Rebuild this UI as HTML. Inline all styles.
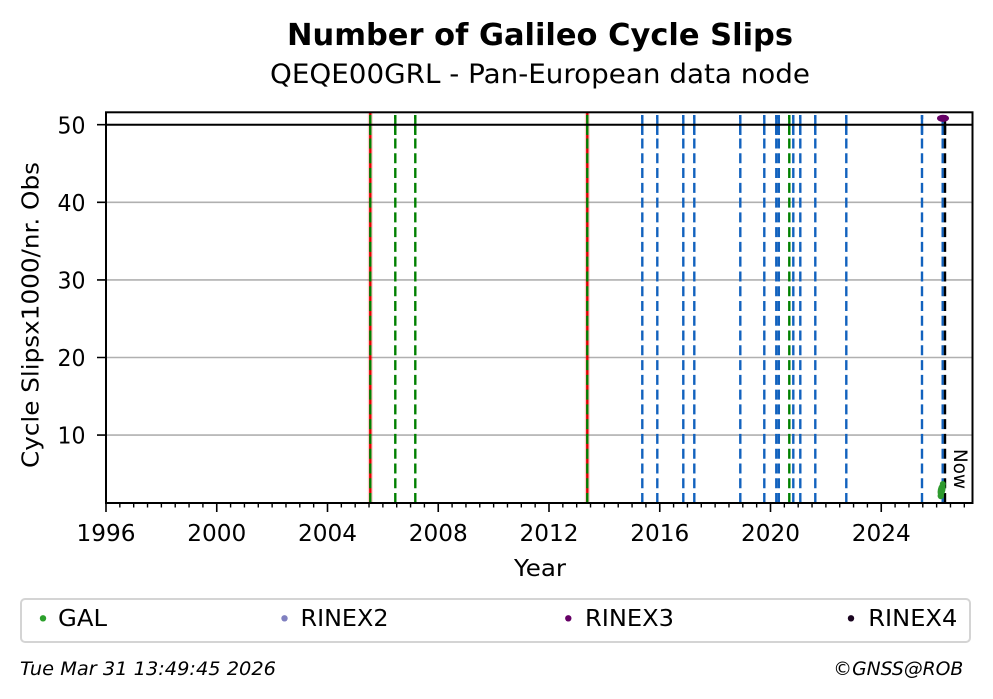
<!DOCTYPE html>
<html>
<head>
<meta charset="utf-8">
<style>
html,body{margin:0;padding:0;background:#fff;}
svg{display:block;}
text{font-family:"DejaVu Sans","Liberation Sans",sans-serif;fill:#000;}
.b{stroke:#1262be;stroke-width:2.4;stroke-dasharray:10 4.77;}
.g{stroke:#008000;stroke-width:2.4;stroke-dasharray:10 4.77;}
</style>
</head>
<body>
<svg width="993" height="699" viewBox="0 0 993 699" xmlns="http://www.w3.org/2000/svg">
<rect x="0" y="0" width="993" height="699" fill="#fff"/>

<text x="287" y="45" font-size="30" font-weight="bold" textLength="506" lengthAdjust="spacingAndGlyphs">Number of Galileo Cycle Slips</text>
<text x="270" y="83" font-size="27" textLength="540" lengthAdjust="spacingAndGlyphs">QEQE00GRL - Pan-European data node</text>

<path d="M106 435.1H973M106 357.5H973M106 279.9H973M106 202.3H973M106 124.7H973" stroke="#b0b0b0" stroke-width="1.6" fill="none"/>

<path d="M370.3 503V112.5M587.3 503V112.5" stroke="#ff0000" stroke-opacity="0.2" stroke-width="5" fill="none"/>
<path d="M370.3 503V112.5M587.3 503V112.5" stroke="#e00000" stroke-width="2.4" fill="none"/>

<line class="g" x1="370.3" y1="503" x2="370.3" y2="115"/>
<line class="g" x1="587.3" y1="503" x2="587.3" y2="115"/>
<line class="g" x1="395.3" y1="503" x2="395.3" y2="115"/>
<line class="g" x1="415.3" y1="503" x2="415.3" y2="115"/>
<line class="g" x1="789.3" y1="503" x2="789.3" y2="115"/>
<path d="M370.3 115V135M587.3 115V135M395.3 115V135M415.3 115V135M789.3 115V135" stroke="#008000" stroke-width="2.4" fill="none"/>

<line class="b" x1="642.3" y1="503" x2="642.3" y2="115"/>
<line class="b" x1="657.3" y1="503" x2="657.3" y2="115"/>
<line class="b" x1="683.3" y1="503" x2="683.3" y2="115"/>
<line class="b" x1="694.3" y1="503" x2="694.3" y2="115"/>
<line class="b" x1="740.3" y1="503" x2="740.3" y2="115"/>
<line class="b" x1="764.3" y1="503" x2="764.3" y2="115"/>
<line class="b" x1="776.3" y1="503" x2="776.3" y2="115"/>
<line class="b" x1="778.8" y1="503" x2="778.8" y2="115"/>
<line class="b" x1="793.3" y1="503" x2="793.3" y2="115"/>
<line class="b" x1="800.3" y1="503" x2="800.3" y2="115"/>
<line class="b" x1="815.3" y1="503" x2="815.3" y2="115"/>
<line class="b" x1="846.3" y1="503" x2="846.3" y2="115"/>
<line class="b" x1="922" y1="503" x2="922" y2="115"/>
<line class="b" x1="942.7" y1="503" x2="942.7" y2="115"/>
<path d="M642.3 115V135M657.3 115V135M683.3 115V135M694.3 115V135M740.3 115V135M764.3 115V135M776.3 115V135M778.8 115V135M793.3 115V135M800.3 115V135M815.3 115V135M846.3 115V135M922 115V135M942.7 115V135" stroke="#1262be" stroke-width="2.4" fill="none"/>

<line x1="945" y1="503" x2="945" y2="115" stroke="#000" stroke-width="2.4" stroke-dasharray="10 4.77"/>
<line x1="945" y1="115" x2="945" y2="135" stroke="#000" stroke-width="2.4"/>
<text transform="translate(954,449) rotate(90)" font-size="19" textLength="40" lengthAdjust="spacingAndGlyphs">Now</text>

<line x1="106" y1="124.7" x2="973" y2="124.7" stroke="#000" stroke-width="2"/>

<ellipse cx="943" cy="118.3" rx="6" ry="3.6" fill="#660066"/>
<ellipse cx="941.6" cy="490" rx="3.8" ry="7.5" transform="rotate(12 941.6 490)" fill="#2e9a2e"/>
<circle cx="940.8" cy="496" r="3.2" fill="#2e9a2e"/>
<circle cx="942.8" cy="484" r="3" fill="#2e9a2e"/>

<rect x="106" y="112.3" width="866.5" height="390.7" fill="none" stroke="#000" stroke-width="2"/>

<path d="M97 435.1H106M97 357.5H106M97 279.9H106M97 202.3H106M97 124.7H106" stroke="#000" stroke-width="1.6" fill="none"/>
<g font-size="23" text-anchor="end">
<text x="85.5" y="443.5" textLength="28" lengthAdjust="spacingAndGlyphs">10</text>
<text x="85.5" y="366" textLength="28" lengthAdjust="spacingAndGlyphs">20</text>
<text x="85.5" y="288.5" textLength="28" lengthAdjust="spacingAndGlyphs">30</text>
<text x="85.5" y="211" textLength="28" lengthAdjust="spacingAndGlyphs">40</text>
<text x="85.5" y="133.3" textLength="28" lengthAdjust="spacingAndGlyphs">50</text>
</g>

<path d="M106 503V512M216.75 503V512M327.5 503V512M438.25 503V512M549 503V512M659.75 503V512M770.5 503V512M881.25 503V512" stroke="#000" stroke-width="1.6" fill="none"/>
<path d="M119.84 503v4.5M133.69 503v4.5M147.53 503v4.5M161.38 503v4.5M175.22 503v4.5M189.06 503v4.5M202.91 503v4.5M230.59 503v4.5M244.44 503v4.5M258.28 503v4.5M272.13 503v4.5M285.97 503v4.5M299.81 503v4.5M313.66 503v4.5M341.34 503v4.5M355.19 503v4.5M369.03 503v4.5M382.88 503v4.5M396.72 503v4.5M410.56 503v4.5M424.41 503v4.5M452.09 503v4.5M465.94 503v4.5M479.78 503v4.5M493.63 503v4.5M507.47 503v4.5M521.31 503v4.5M535.16 503v4.5M562.84 503v4.5M576.69 503v4.5M590.53 503v4.5M604.38 503v4.5M618.22 503v4.5M632.06 503v4.5M645.91 503v4.5M673.59 503v4.5M687.44 503v4.5M701.28 503v4.5M715.13 503v4.5M728.97 503v4.5M742.81 503v4.5M756.66 503v4.5M784.34 503v4.5M798.19 503v4.5M812.03 503v4.5M825.88 503v4.5M839.72 503v4.5M853.56 503v4.5M867.41 503v4.5M895.09 503v4.5M908.94 503v4.5M922.78 503v4.5M936.63 503v4.5M950.47 503v4.5M964.31 503v4.5" stroke="#000" stroke-width="1.4" fill="none"/>
<g font-size="23" text-anchor="middle">
<text x="106" y="541" textLength="59" lengthAdjust="spacingAndGlyphs">1996</text>
<text x="216.75" y="541" textLength="59" lengthAdjust="spacingAndGlyphs">2000</text>
<text x="327.5" y="541" textLength="59" lengthAdjust="spacingAndGlyphs">2004</text>
<text x="438.25" y="541" textLength="59" lengthAdjust="spacingAndGlyphs">2008</text>
<text x="549" y="541" textLength="59" lengthAdjust="spacingAndGlyphs">2012</text>
<text x="659.75" y="541" textLength="59" lengthAdjust="spacingAndGlyphs">2016</text>
<text x="770.5" y="541" textLength="59" lengthAdjust="spacingAndGlyphs">2020</text>
<text x="881.25" y="541" textLength="59" lengthAdjust="spacingAndGlyphs">2024</text>
</g>

<text x="540" y="576" font-size="23" text-anchor="middle" textLength="52" lengthAdjust="spacingAndGlyphs">Year</text>
<text transform="translate(38.5,315) rotate(-90)" font-size="23" text-anchor="middle" textLength="306" lengthAdjust="spacingAndGlyphs">Cycle Slipsx1000/nr. Obs</text>

<rect x="21" y="599" width="949" height="43" rx="4" ry="4" fill="#fff" stroke="#d4d4d4" stroke-width="2"/>
<circle cx="43" cy="618.3" r="3.2" fill="#2ca02c"/>
<text x="58" y="626" font-size="23" textLength="49" lengthAdjust="spacingAndGlyphs">GAL</text>
<circle cx="284.5" cy="618.3" r="3.2" fill="#8080c0"/>
<text x="300.5" y="626" font-size="23" textLength="88" lengthAdjust="spacingAndGlyphs">RINEX2</text>
<circle cx="568.3" cy="618.3" r="3.2" fill="#660066"/>
<text x="585" y="626" font-size="23" textLength="89" lengthAdjust="spacingAndGlyphs">RINEX3</text>
<circle cx="851" cy="618.3" r="3.2" fill="#1a0520"/>
<text x="868.3" y="626" font-size="23" textLength="89" lengthAdjust="spacingAndGlyphs">RINEX4</text>

<text x="20" y="675" font-size="19" font-style="italic" textLength="256" lengthAdjust="spacingAndGlyphs">Tue Mar 31 13:49:45 2026</text>
<text x="963.3" y="675" font-size="19" font-style="italic" text-anchor="end" textLength="130" lengthAdjust="spacingAndGlyphs">©GNSS@ROB</text>
</svg>
</body>
</html>
